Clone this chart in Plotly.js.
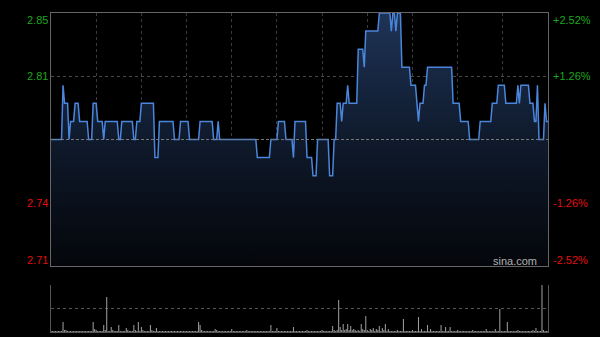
<!DOCTYPE html>
<html><head><meta charset="utf-8">
<script src="https://cdn.plot.ly/plotly-3.0.1.min.js"></script>
<style>html,body{margin:0;padding:0;background:#000;}#chart{width:600px;height:337px;}</style>
</head><body><div id="chart"></div>
<script>
const prevClose = 2.78;
const price = [
2.78,2.78,2.78,2.78,2.78,2.78,2.78,2.78,2.81,2.80,
2.80,2.80,2.78,2.79,2.79,2.79,2.80,2.80,2.80,2.79,
2.79,2.79,2.79,2.79,2.79,2.78,2.78,2.78,2.80,2.80,
2.80,2.79,2.79,2.79,2.79,2.78,2.79,2.79,2.79,2.79,
2.79,2.79,2.79,2.79,2.79,2.78,2.78,2.79,2.79,2.79,
2.79,2.79,2.79,2.79,2.79,2.78,2.78,2.79,2.79,2.79,
2.80,2.80,2.80,2.80,2.80,2.80,2.80,2.80,2.80,2.77,
2.77,2.77,2.79,2.79,2.79,2.79,2.79,2.79,2.79,2.79,
2.79,2.79,2.78,2.78,2.78,2.78,2.79,2.79,2.79,2.79,
2.79,2.79,2.78,2.78,2.78,2.78,2.78,2.78,2.78,2.79,
2.79,2.79,2.79,2.79,2.79,2.79,2.79,2.79,2.78,2.78,
2.78,2.79,2.78,2.78,2.78,2.78,2.78,2.78,2.78,2.78,
2.78,2.78,2.78,2.78,2.78,2.78,2.78,2.78,2.78,2.78,
2.78,2.78,2.78,2.78,2.78,2.78,2.78,2.77,2.77,2.77,
2.77,2.77,2.77,2.77,2.77,2.77,2.78,2.78,2.78,2.78,
2.78,2.79,2.79,2.79,2.79,2.79,2.78,2.78,2.78,2.78,
2.78,2.77,2.79,2.79,2.79,2.79,2.79,2.79,2.79,2.79,
2.77,2.77,2.77,2.77,2.76,2.76,2.76,2.78,2.78,2.78,
2.78,2.78,2.78,2.78,2.78,2.76,2.76,2.76,2.78,2.78,
2.80,2.80,2.80,2.79,2.80,2.80,2.80,2.81,2.80,2.80,
2.80,2.80,2.80,2.80,2.83,2.83,2.83,2.83,2.82,2.84,
2.84,2.84,2.84,2.84,2.84,2.84,2.84,2.84,2.85,2.85,
2.85,2.85,2.85,2.85,2.85,2.85,2.84,2.85,2.85,2.84,
2.85,2.85,2.85,2.82,2.82,2.82,2.82,2.82,2.82,2.81,
2.81,2.81,2.81,2.80,2.79,2.80,2.80,2.80,2.81,2.81,
2.82,2.82,2.82,2.82,2.82,2.82,2.82,2.82,2.82,2.82,
2.82,2.82,2.82,2.82,2.82,2.82,2.82,2.80,2.80,2.80,
2.80,2.80,2.79,2.79,2.79,2.79,2.79,2.79,2.78,2.78,
2.78,2.78,2.78,2.78,2.78,2.79,2.79,2.79,2.79,2.79,
2.79,2.79,2.79,2.80,2.80,2.80,2.80,2.81,2.81,2.81,
2.81,2.81,2.80,2.80,2.80,2.80,2.80,2.80,2.80,2.80,
2.81,2.80,2.81,2.81,2.81,2.81,2.81,2.81,2.80,2.80,
2.80,2.79,2.79,2.81,2.78,2.78,2.78,2.78,2.80,2.79,
2.79
];
const volume = [
1,1,1,1,1,1,1,1,10,2,
2,1,1,1,1,1,1,1,1,1,
1,1,1,1,1,1,1,1,10,3,
2,1,1,1,1,7,2,35,1,1,
5,2,1,1,1,7,1,1,1,1,
4,2,1,1,1,7,2,1,10,1,
5,2,1,1,1,1,7,2,1,1,
4,1,1,1,1,1,1,1,1,1,
1,1,1,1,1,1,1,1,1,1,
1,1,1,1,1,1,1,1,10,7,
2,1,1,1,1,1,1,1,1,3,
2,1,1,1,1,1,1,1,1,1,
3,1,1,1,1,1,1,1,1,1,
2,1,1,1,1,1,1,1,1,1,
1,1,1,1,1,1,7,1,1,1,
4,1,1,1,1,1,1,1,1,1,
1,5,1,1,1,1,1,1,1,1,
2,1,1,1,1,1,1,1,1,1,
2,1,1,1,1,1,1,6,2,1,
2,32,5,2,8,2,3,8,2,6,
2,3,2,1,2,1,8,3,2,16,
2,1,3,2,4,1,3,2,6,1,
4,2,8,1,3,1,1,1,1,1,
2,1,1,1,13,1,1,1,1,1,
2,1,1,1,15,1,3,1,1,1,
7,1,3,1,1,1,1,1,1,7,
1,1,5,1,1,5,1,1,1,1,
2,1,1,1,1,1,1,1,1,1,
2,1,1,1,1,1,1,1,1,3,
1,1,1,1,1,3,1,1,23,1,
1,1,1,10,1,1,1,1,1,1,
2,1,1,1,1,1,1,1,1,1,
2,1,4,1,1,1,47,2,1,1,
1
];
const priceTicks = [2.85, 2.815, 2.745, 2.71];
const priceLabels = ['2.85', '2.81', '2.74', '2.71'];
const pctLabels = ['+2.52%', '+1.26%', '-1.26%', '-2.52%'];
const halfHourTicks = [30, 60, 90, 120, 150, 180, 210, 240, 270, 300];
const volMax = 47;

const minutes = price.map((_, i) => i);
const font = 'Liberation Sans, Arial, sans-serif';

const traces = [
  {
    type: 'scatter', mode: 'lines', x: minutes, y: price,
    line: {color: '#4a86dc', width: 1.5},
    fill: 'tozeroy',
    fillgradient: {type: 'vertical', start: 2.71, stop: 2.85,
      colorscale: [[0, '#04060a'], [0.5, '#0f1a2c'], [1, '#1e3356']]},
    xaxis: 'x', yaxis: 'y', hoverinfo: 'skip'
  },
  {
    type: 'bar', x: minutes, y: volume,
    marker: {color: '#9a9a9a', line: {width: 0}},
    xaxis: 'x2', yaxis: 'y2', hoverinfo: 'skip'
  }
];

const annotations = [];
priceTicks.forEach((v, k) => {
  const first = k === 0, last = k === priceTicks.length - 1;
  const anchor = first ? 'top' : (last ? 'bottom' : 'middle');
  const ys = first ? 1 : (last ? -2 : 0);
  const col = v > prevClose ? '#1ea51e' : '#e01010';
  annotations.push({xref: 'paper', yref: 'y', x: 0, y: v, xanchor: 'right', yanchor: anchor,
    xshift: -1, yshift: ys, text: priceLabels[k], showarrow: false, font: {family: font, size: 11, color: col}});
  annotations.push({xref: 'paper', yref: 'y', x: 1, y: v, xanchor: 'left', yanchor: anchor,
    xshift: 3, yshift: ys, text: pctLabels[k], showarrow: false, font: {family: font, size: 11, color: col}});
});
annotations.push({xref: 'paper', yref: 'y', x: 0.982, y: 2.71, xanchor: 'right', yanchor: 'bottom',
  yshift: -3, text: 'sina.com', showarrow: false, font: {family: font, size: 11, color: '#b0b0b0'}});

const layout = {
  width: 600, height: 337,
  margin: {l: 51, r: 52, t: 0, b: 0, pad: 0},
  paper_bgcolor: '#000', plot_bgcolor: '#000',
  showlegend: false, bargap: 0.3,
  font: {family: font, size: 11, color: '#aaa'},
  xaxis: {domain: [0, 1], range: [0, 330], anchor: 'y', tickvals: halfHourTicks,
    showticklabels: false, ticks: '', showgrid: true, gridcolor: '#3c3c3c', griddash: 'dot', gridwidth: 1,
    showline: true, mirror: true, linecolor: '#666', linewidth: 1, zeroline: false, fixedrange: true},
  yaxis: {domain: [71 / 337, 324 / 337], range: [2.71, 2.85], anchor: 'x', tickvals: [2.745, 2.815],
    showticklabels: false, ticks: '', showgrid: true, gridcolor: '#4a4a4a', griddash: 'dot', gridwidth: 1,
    showline: true, mirror: true, linecolor: '#666', linewidth: 1, zeroline: false, fixedrange: true},
  xaxis2: {domain: [0, 1], range: [0, 330], anchor: 'y2', showticklabels: false, ticks: '',
    showgrid: false, showline: true, linecolor: '#555', zeroline: false, fixedrange: true},
  yaxis2: {domain: [5 / 337, 52 / 337], range: [0, volMax], anchor: 'x2', tickvals: [volMax / 2, volMax],
    showticklabels: false, ticks: '', showgrid: true, gridcolor: '#555', griddash: 'dot',
    showline: true, mirror: true, linecolor: '#555', zeroline: false, fixedrange: true},
  shapes: [{type: 'line', xref: 'paper', yref: 'y', x0: 0, x1: 1, y0: prevClose, y1: prevClose,
    line: {color: '#777', width: 1, dash: '3px,2px'}}],
  annotations: annotations
};

Plotly.newPlot('chart', traces, layout, {displayModeBar: false, staticPlot: true});
</script>
</body></html>
